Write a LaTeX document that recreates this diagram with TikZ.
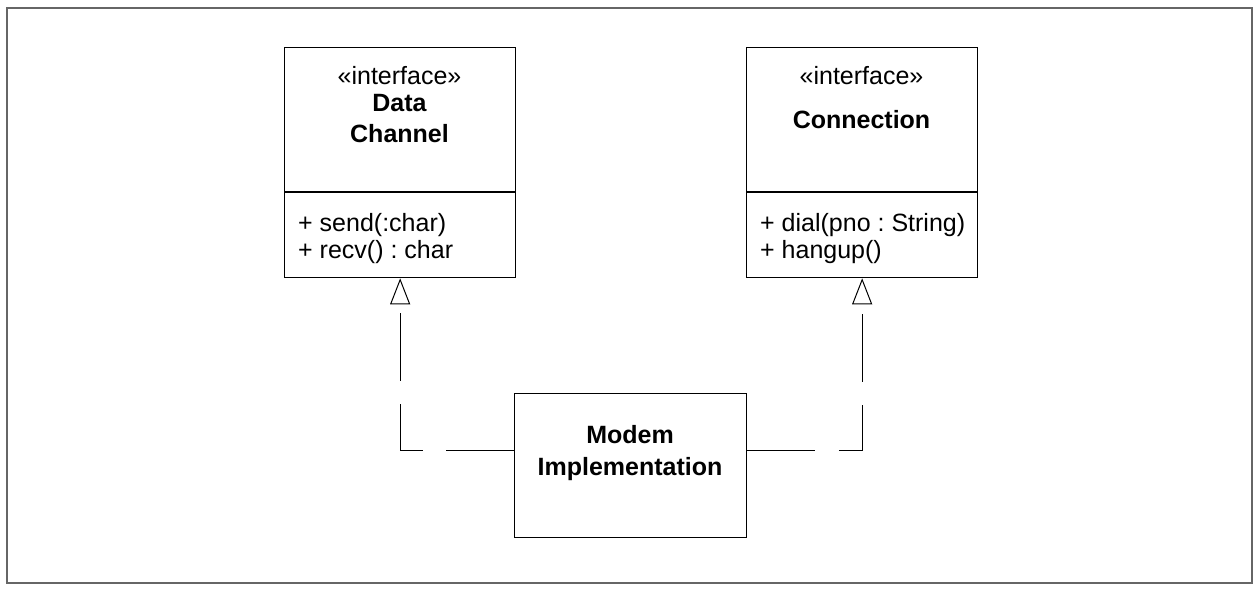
\documentclass[tikz,border=0pt]{standalone}
\usepackage{fontspec}
\setmainfont{Liberation Sans}
\usetikzlibrary{arrows.meta}
\begin{document}
\frenchspacing
\begin{tikzpicture}[x=1pt,y=-1pt,
  box/.style={draw=black, line width=1.3pt, inner sep=0pt, anchor=north west},
  divider/.style={draw=black, line width=1.3pt},
  txt/.style={inner sep=0pt, anchor=base, font=\fontsize{25}{30}\selectfont},
  meth/.style={inner sep=0pt, anchor=base west, font=\fontsize{25}{30}\selectfont\frenchspacing},
  cname/.style={inner sep=0pt, anchor=base, font=\fontsize{25}{30}\selectfont\bfseries},
  realize/.style={draw=black, line width=1pt, dash pattern=on 68pt off 23.5pt,
    -{Triangle[open, length=26pt, width=20pt, line width=1pt]}}
]
\useasboundingbox (0,0) rectangle (1260,590);
\draw[line width=2pt, black!60] (7,8) rectangle (1252,583);

% Data Channel
\node[box, minimum width=231pt, minimum height=230pt] (dc) at (284,47) {};
\draw[divider] (dc.west |- 0,192) -- (dc.east |- 0,192);
\node[txt] (dcs) at (399.5,84) {«interface»};
\node[cname] (dcn1) at (399.5,111) {Data};
\node[cname] (dcn2) at (399.5,142) {Channel};
\node[meth] (dcm1) at (298,231) {+ send(:char)};
\node[meth] (dcm2) at (298,258) {+ recv() : char};

% Connection
\node[box, minimum width=231pt, minimum height=230pt] (cn) at (746,47) {};
\draw[divider] (cn.west |- 0,192) -- (cn.east |- 0,192);
\node[txt] (cns) at (861.5,84) {«interface»};
\node[cname] (cnn) at (861.5,128) {Connection};
\node[meth] (cnm1) at (760,231) {+ dial(pno : String)};
\node[meth] (cnm2) at (760,258) {+ hangup()};

% Modem Implementation
\node[box, minimum width=232pt, minimum height=144pt] (mi) at (514,393) {};
\node[cname] (min1) at (630,443) {Modem};
\node[cname] (min2) at (630,475) {Implementation};

% realizations
\draw[realize] (mi.west |- 0,450) -| (dc.south);
\draw[realize] (mi.east |- 0,450) -| (cn.south);
\end{tikzpicture}
\end{document}
